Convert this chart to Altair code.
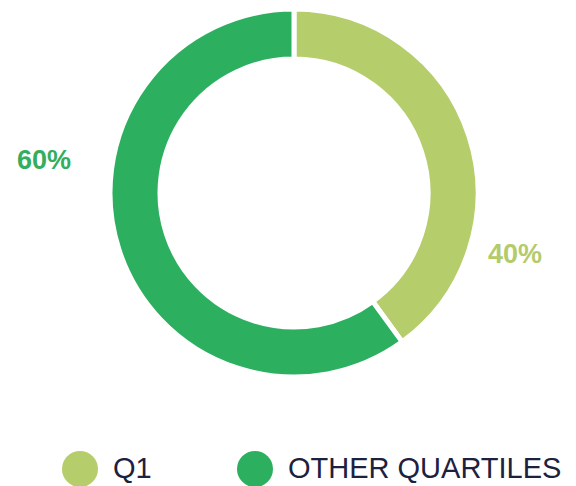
import altair as alt
import pandas as pd

categories = ["Q1", "OTHER QUARTILES"]
shares = [40, 60]
pct_labels = ["40%", "60%"]
colors = ["#b6cd6b", "#2cb060"]
label_colors = ["#b3cb6a", "#34ad5e"]
order = [0, 1]

df = pd.DataFrame({"category": categories, "share": shares, "label": pct_labels, "ord": order})

color_scale = alt.Scale(domain=categories, range=colors)

arc = alt.Chart(df).mark_arc(
    radius=184, radius2=134, stroke="white", strokeWidth=5
).encode(
    theta=alt.Theta("share:Q", stack=True),
    order=alt.Order("ord:Q"),
    color=alt.Color(
        "category:N",
        scale=color_scale,
        legend=alt.Legend(
            title=None,
            orient="none",
            direction="horizontal",
            legendX=54,
            legendY=443,
            symbolType="circle",
            symbolSize=1296,
            symbolStrokeWidth=0,
            symbolOpacity=1,
            labelFontSize=29,
            labelFont="Liberation Sans",
            labelColor="#1c2140",
            labelOffset=15,
            columnPadding=85,
            padding=0,
            labelLimit=400,
        ),
    ),
    x=alt.value(286),
    y=alt.value(185),
)

lab_q1 = alt.Chart(df).transform_filter(alt.datum.category == categories[0]).mark_text(
    font="Liberation Sans", fontSize=27, fontWeight="bold", color=label_colors[0]
).encode(text="label:N", x=alt.value(507), y=alt.value(247))

lab_other = alt.Chart(df).transform_filter(alt.datum.category == categories[1]).mark_text(
    font="Liberation Sans", fontSize=27, fontWeight="bold", color=label_colors[1]
).encode(text="label:N", x=alt.value(36), y=alt.value(153))

chart = alt.layer(arc, lab_q1, lab_other).properties(
    width=560, height=478, autosize=alt.AutoSizeParams(type="none"), padding=0
).configure_view(stroke=None)

chart.save("out.html", embed_options={"renderer": "svg", "actions": False})
